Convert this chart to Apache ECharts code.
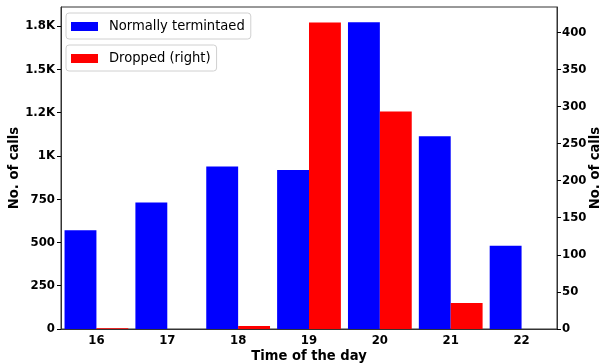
<!DOCTYPE html>
<html>
<head>
<meta charset="utf-8">
<script src="https://cdn.jsdelivr.net/npm/echarts@6/dist/echarts.min.js"></script>
<style>
  html, body { margin: 0; padding: 0; background: #fff; }
  #chart { width: 601px; height: 364px; }
</style>
</head>
<body>
<div id="chart"></div>
<script>
// Calls per hour of the day
const hours = ['16', '17', '18', '19', '20', '21', '22'];
const normallyTerminated = [570, 730, 938, 918, 1772, 1113, 481];
const dropped = [1, 0, 4, 413, 293, 35, 0];

// Left axis tick labels (values 0..1750 step 250)
const leftTickValues = [0, 250, 500, 750, 1000, 1250, 1500, 1750];
const leftTickLabels = ['0', '250', '500', '750', '1K', '1.2K', '1.5K', '1.8K'];

const FONT = '"DejaVu Sans Condensed", "DejaVu Sans"';
const chart = echarts.init(document.getElementById('chart'), null, { renderer: 'canvas' });

const tickLabelStyle = { fontFamily: FONT, fontWeight: 'bold', fontSize: 13, color: '#000' };
const nameStyle = { fontFamily: FONT, fontWeight: 'bold', fontSize: 14.6, color: '#000' };

const legendBox = {
  backgroundColor: '#fff',
  borderColor: '#d0d0d0',
  borderWidth: 1,
  borderRadius: 3,
  padding: [6, 6, 5, 5],
  icon: 'rect',
  itemWidth: 27,
  itemHeight: 9,
  itemGap: 10,
  textStyle: { fontFamily: FONT, fontSize: 14.6, color: '#000', padding: [0, 0, 0, 6] }
};

chart.setOption({
  animation: false,
  grid: {
    left: 61, right: 44, top: 7, bottom: 35,
    containLabel: false,
    outerBoundsMode: 'none',
    show: true, borderColor: '#333', borderWidth: 1, backgroundColor: 'transparent'
  },
  legend: [
    Object.assign({ left: 66, top: 13, data: ['Normally termintaed'] }, legendBox),
    Object.assign({ left: 66, top: 45, data: ['Dropped (right)'] }, legendBox)
  ],
  xAxis: {
    type: 'category',
    data: hours,
    boundaryGap: true,
    name: 'Time of the day',
    nameLocation: 'middle',
    nameGap: 20,
    nameMoveOverlap: false,
    nameTextStyle: nameStyle,
    axisLine: { lineStyle: { color: '#333', width: 1 } },
    axisTick: { alignWithLabel: true, length: 4, lineStyle: { color: '#000' } },
    axisLabel: Object.assign({ margin: 5 }, tickLabelStyle),
    splitLine: { show: false }
  },
  yAxis: [
    {
      type: 'value',
      min: 0,
      max: 1860,
      interval: 250,
      name: 'No. of calls',
      nameLocation: 'middle',
      nameGap: 39,
      nameMoveOverlap: false,
      nameTextStyle: nameStyle,
      axisLine: { show: true, lineStyle: { color: '#333' } },
      axisTick: { show: true, length: 4, lineStyle: { color: '#000' } },
      axisLabel: Object.assign({
        margin: 6,
        showMaxLabel: false,
        formatter: function (v) {
          const i = leftTickValues.indexOf(v);
          return i >= 0 ? leftTickLabels[i] : '';
        }
      }, tickLabelStyle),
      splitLine: { show: false }
    },
    {
      type: 'value',
      min: 0,
      max: 434,
      interval: 50,
      position: 'right',
      name: 'No. of calls',
      nameLocation: 'middle',
      nameGap: 31,
      nameRotate: 90,
      nameMoveOverlap: false,
      nameTextStyle: nameStyle,
      axisLine: { show: true, lineStyle: { color: '#333' } },
      axisTick: { show: true, length: 4, lineStyle: { color: '#000' } },
      axisLabel: Object.assign({ margin: 5, showMaxLabel: false }, tickLabelStyle),
      splitLine: { show: false }
    }
  ],
  series: [
    {
      name: 'Normally termintaed',
      type: 'bar',
      yAxisIndex: 0,
      data: normallyTerminated,
      barWidth: '45%',
      barGap: '0%',
      itemStyle: { color: '#0000ff' }
    },
    {
      name: 'Dropped (right)',
      type: 'bar',
      yAxisIndex: 1,
      data: dropped,
      barWidth: '45%',
      barGap: '0%',
      itemStyle: { color: '#ff0000' }
    }
  ]
});
</script>
</body>
</html>
